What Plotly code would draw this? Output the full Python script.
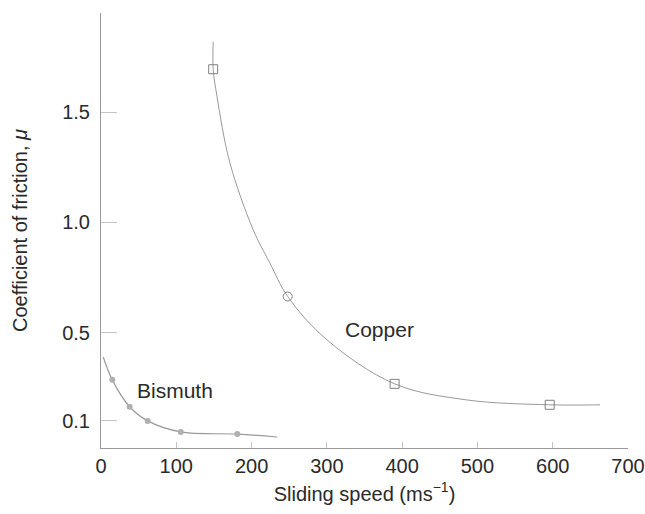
import plotly.graph_objects as go

# Measured points (sliding speed in m/s, coefficient of friction)
copper_speed = [149, 248, 390, 596]
copper_mu = [1.695, 0.664, 0.268, 0.173]
copper_symbols = ["square-open", "circle-open", "square-open", "square-open"]

bismuth_speed = [15, 38, 62, 106, 181]
bismuth_mu = [0.286, 0.164, 0.10, 0.05, 0.04]

# Fitted curves traced through the data
copper_curve_speed = [149, 149, 154, 171, 202, 224, 248, 300, 390, 486, 596, 663]
copper_curve_mu = [1.82, 1.695, 1.573, 1.273, 0.968, 0.818, 0.664, 0.468, 0.268, 0.195, 0.173, 0.173]

bismuth_curve_speed = [3, 15, 38, 62, 106, 181, 234]
bismuth_curve_mu = [0.39, 0.286, 0.164, 0.10, 0.05, 0.04, 0.027]

x_ticks = [0, 100, 200, 300, 400, 500, 600, 700]
y_ticks = [0.1, 0.5, 1.0, 1.5, 1.95]
y_tick_text = ["0.1", "0.5", "1.0", "1.5", ""]

line_col = "#9a9a9a"
text_col = "#2a2a2a"
font_family = "Liberation Sans, Arial, sans-serif"

fig = go.Figure()

fig.add_trace(go.Scatter(
    x=copper_curve_speed, y=copper_curve_mu, mode="lines",
    line=dict(color=line_col, width=1, shape="spline", smoothing=1.0),
    hoverinfo="skip", showlegend=False))
fig.add_trace(go.Scatter(
    x=bismuth_curve_speed, y=bismuth_curve_mu, mode="lines",
    line=dict(color=line_col, width=1.2, shape="spline", smoothing=1.0),
    hoverinfo="skip", showlegend=False))

fig.add_trace(go.Scatter(
    x=copper_speed, y=copper_mu, mode="markers", name="Copper",
    marker=dict(symbol=copper_symbols, size=9, color="#808080",
                line=dict(color="#808080", width=1)),
    showlegend=False))
fig.add_trace(go.Scatter(
    x=bismuth_speed, y=bismuth_mu, mode="markers", name="Bismuth",
    marker=dict(symbol="circle", size=6, color="#b0b0b0"),
    showlegend=False))

fig.add_annotation(x=370, y=0.514, text="Copper", showarrow=False,
                   font=dict(size=21, color=text_col, family=font_family))
fig.add_annotation(x=98, y=0.24, text="Bismuth", showarrow=False,
                   font=dict(size=21, color=text_col, family=font_family))

fig.update_layout(
    width=645, height=514,
    margin=dict(l=101, r=17, t=13, b=66),
    paper_bgcolor="white", plot_bgcolor="white",
    font=dict(family=font_family, color=text_col, size=20),
    xaxis=dict(
        range=[0, 700], tickvals=x_ticks, ticks="inside", ticklen=6,
        tickcolor="#c4c4c4", tickwidth=1, automargin=False,
        showline=True, linecolor=line_col, linewidth=1,
        showgrid=False, zeroline=False,
        tickfont=dict(size=20, color=text_col),
        title=dict(text="Sliding speed (ms<sup>−1</sup>)", standoff=10,
                   font=dict(size=20, color=text_col)),
    ),
    yaxis=dict(
        range=[-0.023, 1.95], tickvals=y_ticks, ticktext=y_tick_text,
        ticks="inside", ticklen=16, tickcolor="#c4c4c4", tickwidth=1,
        automargin=False, ticklabelstandoff=6,
        showline=True, linecolor=line_col, linewidth=1,
        showgrid=False, zeroline=False,
        tickfont=dict(size=20, color=text_col),
        title=dict(text="Coefficient of friction, <i>μ</i>", standoff=29,
                   font=dict(size=20, color=text_col)),
    ),
)

fig.write_html("out.html")
